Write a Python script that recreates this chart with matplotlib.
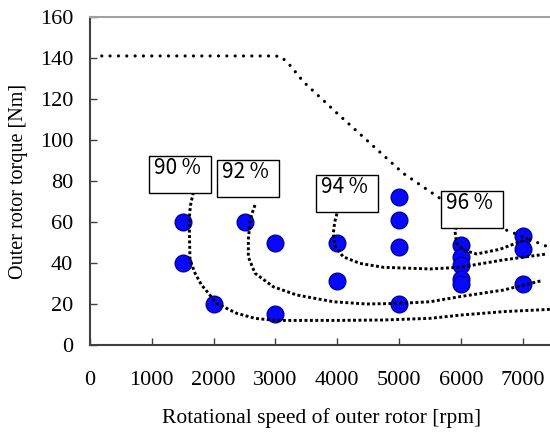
import matplotlib
matplotlib.use("Agg")
import matplotlib.pyplot as plt
from matplotlib.patches import Rectangle

# measured operating points
speed_pts = [1500, 1500, 2000, 2500, 3000, 3000, 4000, 4000, 5000, 5000, 5000, 5000,
             6000, 6000, 6000, 6000, 6000, 7000, 7000, 7000]
torque_pts = [60, 40, 20, 60, 50, 15, 50, 31, 72, 61, 48, 20,
              49, 43, 39, 32, 30, 53, 47, 30]

# maximum torque envelope
max_speed = [190, 3000, 3100, 3250, 3450, 4000, 4530, 5070, 5660, 6660, 7400]
max_torque = [141, 141, 140.5, 136, 128.5, 113, 98.5, 83.7, 71.6, 57, 48]

# efficiency contours
eff90_speed = [1672, 1625, 1607, 1610, 1618, 1700, 1800, 2050, 2370, 2670, 3000,
               3400, 4000, 4750, 5500, 6000, 6700, 7450]
eff90_torque = [74.5, 68, 62, 52, 41.5, 35, 29.5, 20.3, 15.5, 13, 12,
                12, 12, 12.2, 13, 14.6, 16.3, 17.4]

eff92_speed = [2670, 2620, 2589, 2562, 2562, 2670, 2966, 3344, 3937, 4477, 5016,
               5502, 5987, 6688, 7310]
eff92_torque = [68.3, 64, 60.2, 51.2, 43, 35, 28.4, 24.4, 21.1, 20, 20.3,
                21.1, 23.6, 26.8, 31.4]

eff94_speed = [4018, 3960, 3937, 3964, 4099, 4369, 4746, 5502, 5987, 6688, 7390]
eff94_torque = [66.7, 60, 54.5, 48, 43, 39.8, 37.9, 37.1, 37.9, 41.5, 44.4]

eff96_speed = [5987, 5920, 5906, 5933, 6041, 6257, 6634, 6958, 7092]
eff96_torque = [59.7, 57, 55.3, 49.6, 46.3, 44.4, 46.7, 50.4, 52]

eff_labels = ['90 %', '92 %', '94 %', '96 %']
label_boxes = [(955, 74.1), (2055, 72.3), (3657, 65.0), (5680, 57.0)]

xticks = [0, 1000, 2000, 3000, 4000, 5000, 6000, 7000]
yticks = [0, 20, 40, 60, 80, 100, 120, 140, 160]

plt.rcParams['font.family'] = ['Liberation Serif', 'DejaVu Serif']

fig = plt.figure(figsize=(5.5, 4.32), dpi=100)
ax = fig.add_axes([90 / 550, 87 / 432, 463.5 / 550, 328 / 432])

ax.plot(speed_pts, torque_pts, 'o', ms=12, mfc='#0808ff', mec='#0000a0', mew=1.0,
        zorder=2, clip_on=False)

ax.plot(max_speed, max_torque, color='black', lw=2.3, dashes=(0.01, 2.6),
        dash_capstyle='round', zorder=3)

for xs, ys in [(eff90_speed, eff90_torque), (eff92_speed, eff92_torque),
               (eff94_speed, eff94_torque), (eff96_speed, eff96_torque)]:
    ax.plot(xs, ys, color='black', lw=2.1, dashes=(1, 0.85), zorder=3)

for txt, (bx, by) in zip(eff_labels, label_boxes):
    ax.add_patch(Rectangle((bx, by), 1010, 18, fc='white', ec='black', lw=1.0, zorder=4))
    ax.text(bx + 80, by + 9.3, txt, fontsize=15, va='baseline', ha='left',
            family=['Noto Sans CJK JP', 'DejaVu Sans'], zorder=5)

ax.set_xlim(0, 7500)
ax.set_ylim(0, 160)
ax.set_xticks(xticks)
ax.set_yticks(yticks)
ax.tick_params(axis='both', direction='in', length=5, width=1, color='#404040',
               labelsize=16)
ax.tick_params(axis='x', pad=19)
ax.tick_params(axis='y', pad=12)

ax.spines['top'].set_color('#a0a0a0')
ax.spines['top'].set_linewidth(1.5)
ax.spines['right'].set_visible(False)
for s in ['left', 'bottom']:
    ax.spines[s].set_color('#404040')
    ax.spines[s].set_linewidth(1.5)

ax.set_xlabel('Rotational speed of outer rotor [rpm]', fontsize=15.5, va='center')
ax.xaxis.set_label_coords(0.5, (345 - 418) / 328)
ax.set_ylabel('Outer rotor torque [Nm]', fontsize=14.5, va='center')
ax.yaxis.set_label_coords((19 - 90) / 463.5, 0.5)

fig.savefig('out.png', dpi=100)
